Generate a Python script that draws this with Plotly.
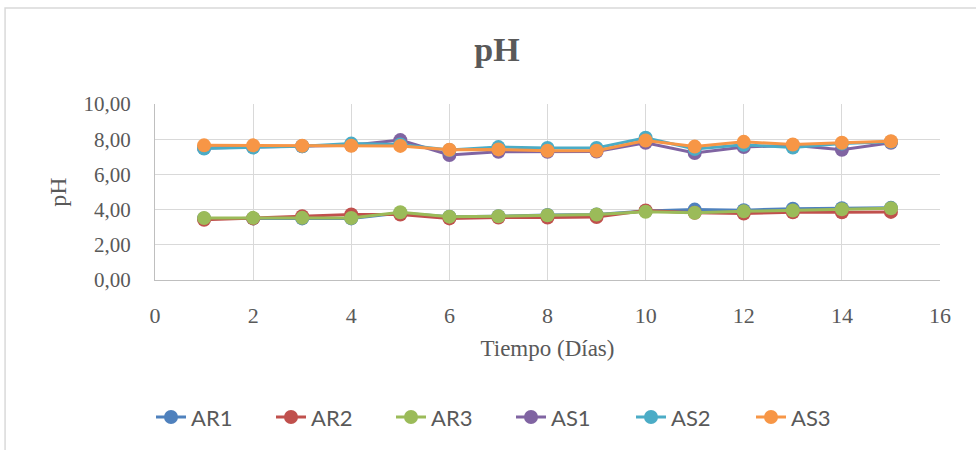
import plotly.graph_objects as go

dias = list(range(1, 16))
series_names = ["AR1", "AR2", "AR3", "AS1", "AS2", "AS3"]
AR1 = [3.50, 3.50, 3.50, 3.50, 3.80, 3.60, 3.62, 3.70, 3.72, 3.92, 4.00, 3.97, 4.05, 4.08, 4.10]
AR2 = [3.42, 3.50, 3.62, 3.72, 3.72, 3.50, 3.55, 3.55, 3.58, 3.95, 3.82, 3.78, 3.85, 3.85, 3.87]
AR3 = [3.52, 3.53, 3.53, 3.52, 3.85, 3.60, 3.62, 3.68, 3.72, 3.88, 3.82, 3.90, 3.95, 4.02, 4.08]
AS1 = [7.50, 7.55, 7.60, 7.65, 7.95, 7.10, 7.28, 7.28, 7.30, 7.80, 7.22, 7.55, 7.66, 7.40, 7.80]
AS2 = [7.47, 7.53, 7.60, 7.75, 7.70, 7.38, 7.55, 7.50, 7.50, 8.08, 7.44, 7.68, 7.53, 7.75, 7.85]
AS3 = [7.65, 7.65, 7.63, 7.63, 7.62, 7.40, 7.42, 7.34, 7.34, 7.93, 7.58, 7.85, 7.70, 7.80, 7.88]
colors = ["#4f81bd", "#c0504d", "#9bbb59", "#8064a2", "#4bacc6", "#f79646"]

fig = go.Figure()
for name, vals, c in zip(series_names, [AR1, AR2, AR3, AS1, AS2, AS3], colors):
    fig.add_trace(go.Scatter(x=dias, y=vals, name=name, mode="lines+markers",
                             line=dict(color=c, width=3),
                             marker=dict(color=c, size=14)))

serif = "Liberation Serif, Times New Roman, serif"
fig.update_layout(
    width=976, height=450,
    paper_bgcolor="white", plot_bgcolor="white",
    margin=dict(l=155, r=36, t=104, b=168),
    separators=",.",
    title=dict(text="<b>pH</b>", x=497 / 976, xref="container", y=0.89, yref="container",
               xanchor="center", yanchor="middle",
               font=dict(family=serif, size=34, color="#595959")),
    xaxis=dict(range=[0, 16], dtick=2, tick0=0, showgrid=True, gridcolor="#d9d9d9",
               gridwidth=1, zeroline=False, showline=True, linecolor="#bfbfbf",
               ticks="", ticklabelstandoff=16,
               tickfont=dict(family=serif, size=22, color="#595959"),
               title=dict(text="Tiempo (Días)", font=dict(family=serif, size=23, color="#595959"),
                          standoff=12)),
    yaxis=dict(range=[0, 10], dtick=2, tick0=0, tickformat=".2f", showgrid=True,
               gridcolor="#d9d9d9", gridwidth=1, zeroline=False, showline=True,
               linecolor="#bfbfbf", ticks="", ticklabelstandoff=19,
               tickfont=dict(family=serif, size=21, color="#595959"),
               title=dict(text="pH", font=dict(family=serif, size=24, color="#595959"),
                          standoff=10)),
    legend=dict(orientation="h", x=(511 - 155) / 785, xanchor="center", y=-0.66, yanchor="top",
                font=dict(family="Lato, Carlito, Calibri, sans-serif", size=22,
                          color="#595959"),
                entrywidth=75, entrywidthmode="pixels", tracegroupgap=0),
    showlegend=True,
)
fig.add_shape(type="rect", xref="paper", yref="paper", x0=-0.191, x1=1.2, y0=-1.2, y1=1.545,
              line=dict(color="#d9d9d9", width=1.5), fillcolor="rgba(0,0,0,0)", layer="below")

fig.write_html("out.html")
